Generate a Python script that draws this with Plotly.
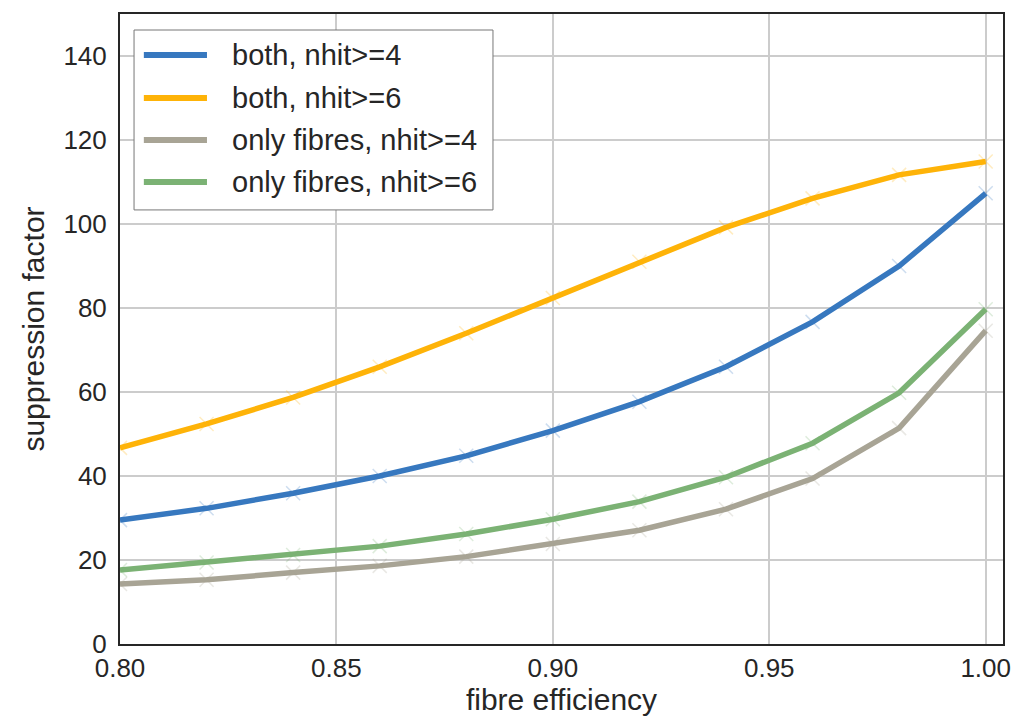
import plotly.graph_objects as go

efficiency = [0.80, 0.82, 0.84, 0.86, 0.88, 0.90, 0.92, 0.94, 0.96, 0.98, 1.00]
both_nhit4 = [29.5, 32.3, 35.9, 40.0, 44.8, 50.8, 57.7, 66.0, 76.7, 90.0, 107.3]
both_nhit6 = [46.7, 52.4, 58.7, 66.0, 74.0, 82.4, 91.0, 99.2, 106.1, 111.7, 114.9]
fibres_nhit4 = [14.3, 15.3, 17.0, 18.6, 20.8, 23.8, 27.1, 32.1, 39.4, 51.4, 74.6]
fibres_nhit6 = [17.6, 19.4, 21.2, 23.3, 26.2, 29.7, 33.9, 39.7, 47.8, 59.8, 79.7]

names = ["both, nhit>=4", "both, nhit>=6", "only fibres, nhit>=4", "only fibres, nhit>=6"]
series = [both_nhit4, both_nhit6, fibres_nhit4, fibres_nhit6]
colors = ["#3778bf", "#feb308", "#a8a495", "#7bb274"]
marker_colors = ["rgba(55,120,191,0.25)", "rgba(254,179,8,0.25)",
                 "rgba(168,164,149,0.25)", "rgba(123,178,116,0.25)"]

FONT = "Liberation Sans, Arial, sans-serif"
TXT = "#262626"

fig = go.Figure()
for name, ys, c, mc in zip(names, series, colors, marker_colors):
    fig.add_trace(go.Scatter(
        x=efficiency, y=ys, name=name, mode="lines+markers",
        line=dict(color=c, width=5.5),
        marker=dict(symbol="x-thin", size=14, line=dict(color=mc, width=1.5)),
        showlegend=False,
    ))

# custom legend (box, sample lines, labels) in paper coordinates
box = dict(x0=0.0159, x1=0.4224, y0=0.689, y1=0.9746)
entry_y = [0.9349, 0.8667, 0.8000, 0.7333]
fig.add_shape(type="rect", xref="paper", yref="paper", **box,
              fillcolor="white", line=dict(color="#777777", width=1), layer="above")
for name, c, yy in zip(names, colors, entry_y):
    fig.add_shape(type="line", xref="paper", yref="paper",
                  x0=0.027, x1=0.0985, y0=yy, y1=yy,
                  line=dict(color=c, width=6), layer="above")
    fig.add_annotation(xref="paper", yref="paper", x=0.1246, y=yy,
                       xanchor="left", yanchor="middle", showarrow=False,
                       text=name, font=dict(family=FONT, size=29, color=TXT))

axis_common = dict(
    showline=True, linecolor=TXT, linewidth=2, mirror=True,
    showgrid=True, gridcolor="#cccccc", gridwidth=1.5,
    zeroline=False, ticks="", automargin=False,
    tickfont=dict(family=FONT, size=26, color=TXT),
)

fig.update_layout(
    width=1033, height=719,
    margin=dict(l=120, r=30, t=14, b=75),
    paper_bgcolor="white", plot_bgcolor="white",
    font=dict(family=FONT, color=TXT),
    xaxis=dict(range=[0.8, 1.004], tickvals=[0.80, 0.85, 0.90, 0.95, 1.00],
               ticktext=["0.80", "0.85", "0.90", "0.95", "1.00"],
               ticklabelstandoff=0,
               title=dict(text="fibre efficiency", font=dict(family=FONT, size=30, color=TXT),
                          standoff=4),
               **axis_common),
    yaxis=dict(range=[0, 150], tickvals=[0, 20, 40, 60, 80, 100, 120, 140],
               ticklabelstandoff=6,
               title=dict(text="suppression factor", font=dict(family=FONT, size=30, color=TXT),
                          standoff=10),
               **axis_common),
    showlegend=False,
)

fig.write_html("out.html")
